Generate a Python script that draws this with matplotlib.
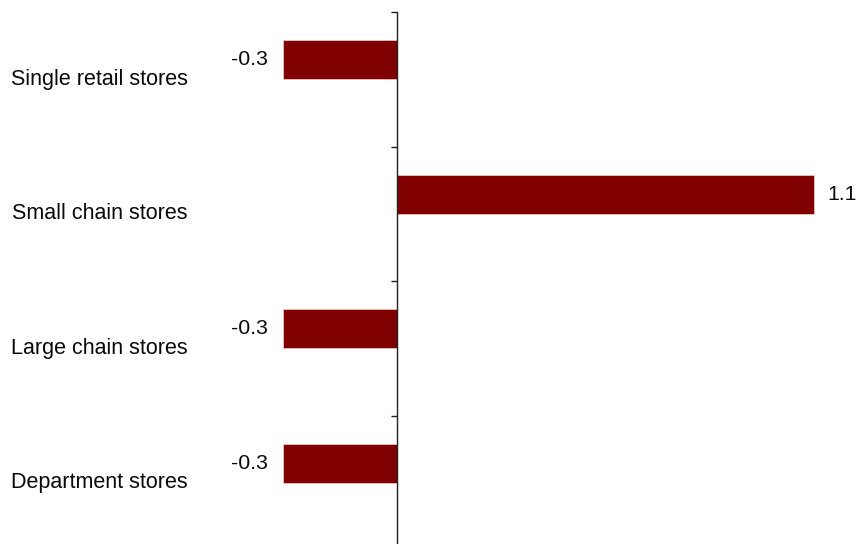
import numpy as np
import matplotlib as mpl
mpl.use('Agg')
import matplotlib.pyplot as plt
import matplotlib.transforms as mtransforms

plt.rcParams['font.family'] = ['Liberation Sans', 'DejaVu Sans']

categories = ['Single retail stores', 'Small chain stores', 'Large chain stores', 'Department stores']
values = [-0.3, 1.1, -0.3, -0.3]
value_labels = ['-0.3', '1.1', '-0.3', '-0.3']

W, H = 856, 544
fig = plt.figure(figsize=(W / 100, H / 100), dpi=100)

# axes placed in pixels: zero line at x=396.7, 379 px per unit
zero_px, px_per_unit = 396.7, 379.0
top_px, bottom_px = 12, 550
ax = fig.add_axes([0, (H - bottom_px) / H, 1, (bottom_px - top_px) / H])
ax.set_xlim(-zero_px / px_per_unit, (W - zero_px) / px_per_unit)
ax.set_ylim(len(categories), 0)

bar_offset = 0.355   # bar centre sits above the band centre
bar_height = 0.29
pos = np.arange(len(categories))
ax.barh(pos + bar_offset, values, height=bar_height, color='#800000',
        edgecolor='#f0d0d0', linewidth=0.5)

for p, v, lab in zip(pos, values, value_labels):
    off = 13.5 if v >= 0 else -15
    ax.annotate(lab, (v, p + bar_offset), xytext=(off * 0.72, 0),
                textcoords='offset points', ha='left' if v >= 0 else 'right',
                va='center', fontsize=15.3, color='#0a0a0a')

tr = mtransforms.blended_transform_factory(fig.transFigure, ax.transData)
for p, name in zip(pos, categories):
    ax.text(188 / W, p + 0.5, name, transform=tr, ha='right', va='center',
            fontsize=15.5, color='#0a0a0a')

for s in ['top', 'right', 'bottom']:
    ax.spines[s].set_visible(False)
ax.spines['left'].set_position(('data', 0))
ax.spines['left'].set_color('#222222')
ax.spines['left'].set_linewidth(1)
ax.set_yticks(np.arange(len(categories) + 1))
ax.set_yticklabels([])
ax.tick_params(axis='y', direction='out', length=4, width=1, color='#222222')
ax.set_xticks([])
ax.patch.set_alpha(0)

fig.savefig('out.png', dpi=100)
